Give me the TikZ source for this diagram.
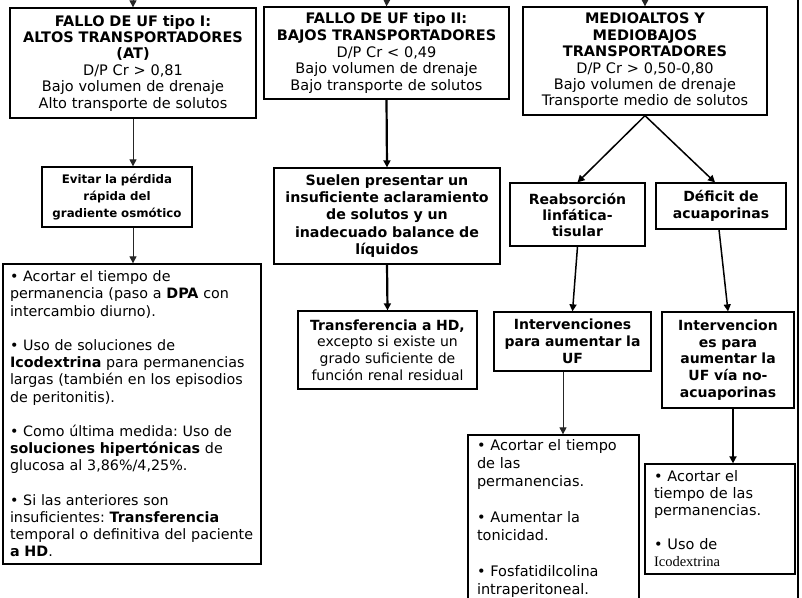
\documentclass[tikz,border=0pt]{standalone}
\usepackage{fontspec}
\setmainfont{DejaVu Sans}
\newfontfamily\romanalt{Liberation Serif}
\usetikzlibrary{arrows.meta}
\frenchspacing

\tikzset{
  box/.style={draw=black, line width=1.3pt, fill=white, inner sep=0pt,
    align=center, font=\fontsize{14.5}{16.8}\selectfont},
  listbox/.style={box, align=left},
  thinarrow/.style={draw=black!85, line width=1pt,
    -{Triangle[length=7pt,width=7pt]}},
  midarrow/.style={draw=black, line width=1.5pt,
    -{Triangle[length=7pt,width=7pt]}},
  thickarrow/.style={draw=black, line width=2.2pt,
    -{Triangle[length=7pt,width=7pt]}},
  frameline/.style={draw=black, line width=1.3pt}
}

\begin{document}
\begin{tikzpicture}[x=1pt,y=-1pt]
\useasboundingbox (0,0) rectangle (802,597);
\fill[white] (0,0) rectangle (802,597);
\clip (0,0) rectangle (802,597);

% outer frame, right side
\draw[frameline] (798,-5) -- (798,605);

% incoming arrows from above
\coordinate (inI) at (133,-4);
\coordinate (inII) at (387,-4);
\coordinate (inIII) at (645,-4);

% top row: the three failure types
\node[box, minimum width=246pt, minimum height=110pt, text width=236pt,
      font=\fontsize{14.5}{16.4}\selectfont] (tipoI) at (133,63)
  {\textbf{FALLO DE UF tipo I:}\\\textbf{ALTOS TRANSPORTADORES}\\\textbf{(AT)}\\
   D/P Cr > 0,81\\Bajo volumen de drenaje\\Alto transporte de solutos};

\node[box, minimum width=245pt, minimum height=92pt, text width=235pt,
      font=\fontsize{14.5}{16.8}\selectfont] (tipoII) at (386.5,53)
  {\textbf{FALLO DE UF tipo II:}\\\textbf{BAJOS TRANSPORTADORES}\\
   D/P Cr < 0,49\\Bajo volumen de drenaje\\Bajo transporte de solutos};

\node[box, minimum width=244pt, minimum height=108pt, text width=234pt,
      font=\fontsize{14.5}{16.4}\selectfont] (tipoIII) at (645,61)
  {\textbf{MEDIOALTOS Y}\\\textbf{MEDIOBAJOS}\\\textbf{TRANSPORTADORES}\\
   D/P Cr > 0,50-0,80\\Bajo volumen de drenaje\\Transporte medio de solutos};

% left column
\node[box, minimum width=150pt, minimum height=60pt, text width=146pt,
      font=\fontsize{11.8}{17}\selectfont] (evitar) at (117,197)
  {\textbf{Evitar la pérdida}\\\textbf{rápida del}\\\textbf{gradiente osmótico}};

\node[listbox, minimum width=258pt, minimum height=300pt, text width=244pt,
      font=\fontsize{14.3}{17.2}\selectfont] (bigleft) at (132,414)
  {• Acortar el tiempo de\\
   permanencia (paso a \textbf{DPA} con\\
   intercambio diurno).\\[17.2pt]
   • Uso de soluciones de\\
   \textbf{Icodextrina} para permanencias\\
   largas (también en los episodios\\
   de peritonitis).\\[17.2pt]
   • Como última medida: Uso de\\
   \textbf{soluciones hipertónicas} de\\
   glucosa al 3,86\%/4,25\%.\\[17.2pt]
   • Si las anteriores son\\
   insuficientes: \textbf{Transferencia}\\
   temporal o definitiva del paciente\\
   \textbf{a HD}.};

% middle column
\node[box, minimum width=226pt, minimum height=96pt, text width=222pt,
      font=\fontsize{14.2}{17.3}\selectfont] (suelen) at (387,216)
  {\textbf{Suelen presentar un}\\\textbf{insuficiente aclaramiento}\\
   \textbf{de solutos y un}\\\textbf{inadecuado balance de}\\\textbf{líquidos}};

\node[box, minimum width=179pt, minimum height=78pt, text width=175pt,
      font=\fontsize{14}{16.7}\selectfont] (transf) at (387.5,350)
  {\textbf{Transferencia a HD,}\\excepto si existe un\\grado suficiente de\\
   función renal residual};

% right column
\node[box, minimum width=135pt, minimum height=63pt, text width=131pt,
      font=\fontsize{14}{16}\selectfont] (reabs) at (577.5,214.5)
  {\textbf{Reabsorción}\\\textbf{linfática-}\\\textbf{tisular}};

\node[box, minimum width=130pt, minimum height=46pt, text width=126pt,
      font=\fontsize{14}{16.5}\selectfont] (deficit) at (721,206)
  {\textbf{Déficit de}\\\textbf{acuaporinas}};

\node[box, minimum width=157pt, minimum height=59pt, text width=153pt,
      font=\fontsize{14}{16.8}\selectfont] (interv1) at (572.5,341.5)
  {\textbf{Intervenciones}\\\textbf{para aumentar la}\\\textbf{UF}};

\node[box, minimum width=132pt, minimum height=96pt, text width=128pt,
      font=\fontsize{14}{16.8}\selectfont] (interv2) at (728,360)
  {\textbf{Intervencion}\\\textbf{es para}\\\textbf{aumentar la}\\
   \textbf{UF vía no-}\\\textbf{acuaporinas}};

\node[listbox, minimum width=171pt, minimum height=167pt, text width=153pt,
      font=\fontsize{14.5}{18}\selectfont] (listmid) at (553.5,518.5)
  {• Acortar el tiempo\\de las\\permanencias.\\[18pt]
   • Aumentar la\\tonicidad.\\[18pt]
   • Fosfatidilcolina\\intraperitoneal.};

\node[listbox, minimum width=150pt, minimum height=110pt, text width=132pt,
      font=\fontsize{14.5}{17}\selectfont] (listright) at (720,519)
  {• Acortar el\\tiempo de las\\permanencias.\\[17pt]
   • Uso de\\{\romanalt Icodextrina}};

% connectors
\draw[thinarrow] (inI) -- (tipoI.north);
\draw[thinarrow] (inII) -- (tipoII.north);
\draw[thinarrow] (inIII) -- (tipoIII.north);

\draw[thinarrow] (tipoI.south) -- (tipoI.south |- evitar.north);
\draw[thinarrow] (tipoI.south |- evitar.south) -- (tipoI.south |- bigleft.north);

\draw[thickarrow] (tipoII.south) -- (suelen.north);
\draw[thickarrow] (suelen.south) -- (transf.north);

\draw[midarrow] (tipoIII.south) -- (reabs.north);
\draw[midarrow] (tipoIII.south) -- ([xshift=-6pt]deficit.north);
\draw[midarrow] (reabs.south) -- (interv1.north);
\draw[midarrow] ([xshift=-2pt]deficit.south) -- (interv2.north);

\draw[thinarrow] ([xshift=-9.5pt]interv1.south) -- ([xshift=-9.5pt]interv1.south |- listmid.north);
\draw[thickarrow] ([xshift=5pt]interv2.south) -- ([xshift=5pt]interv2.south |- listright.north);
\end{tikzpicture}
\end{document}
